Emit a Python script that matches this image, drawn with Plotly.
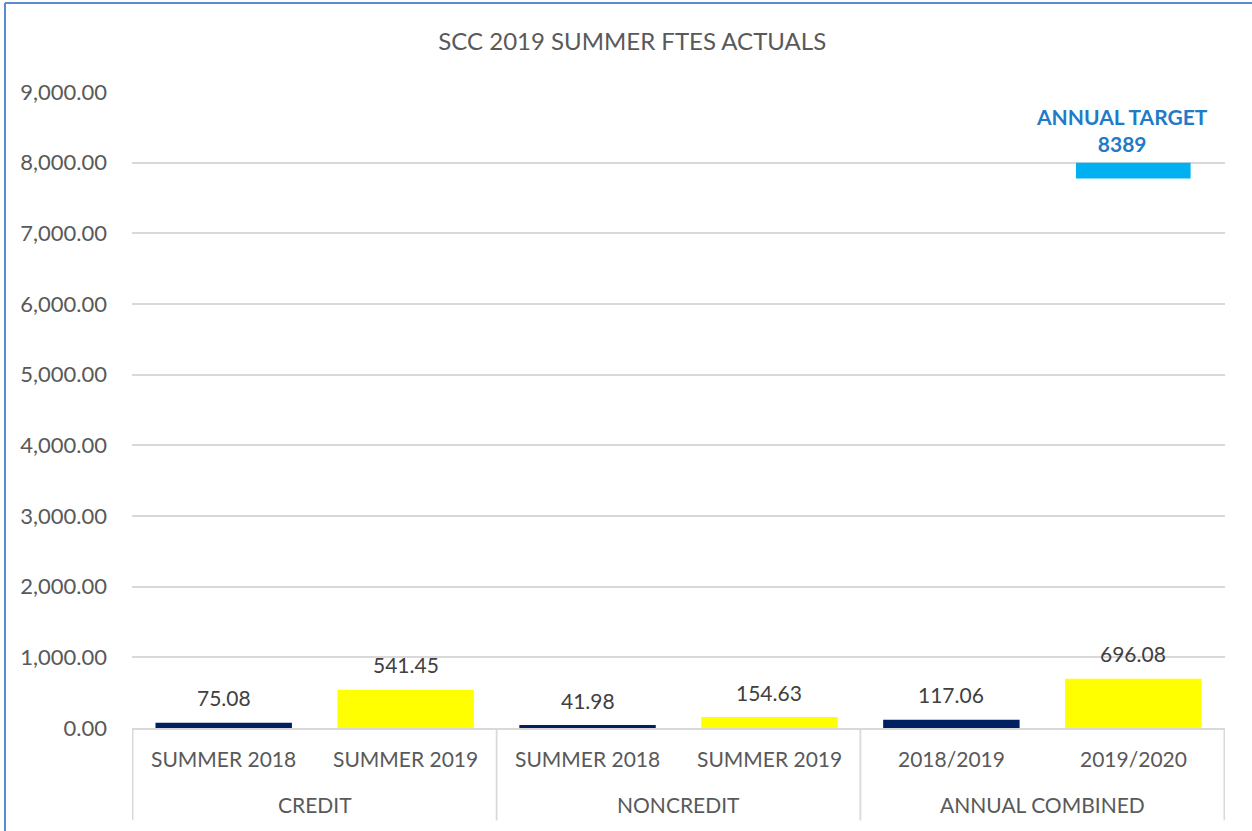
import plotly.graph_objects as go

groups = ["CREDIT", "CREDIT", "NONCREDIT", "NONCREDIT", "ANNUAL COMBINED", "ANNUAL COMBINED"]
periods = ["SUMMER 2018", "SUMMER 2019", "SUMMER 2018", "SUMMER 2019", "2018/2019", "2019/2020"]
ftes = [75.08, 541.45, 41.98, 154.63, 117.06, 696.08]
bar_colors = ["#002060", "#FFFF00", "#002060", "#FFFF00", "#002060", "#FFFF00"]

target_value = 8389
target_label = "ANNUAL TARGET<br>8389"
target_group = ["ANNUAL COMBINED"]
target_period = ["2019/2020"]
target_marker_base = [7775]
target_marker_height = [225]

font_family = "Lato, 'Open Sans', sans-serif"
text_color = "#595959"
grid_color = "#D9D9D9"

fig = go.Figure()
fig.add_trace(go.Bar(
    x=[groups, periods], y=ftes,
    marker=dict(color=bar_colors, line=dict(width=0)),
    width=0.75,
    showlegend=False, hoverinfo="y",
))
fig.add_trace(go.Bar(
    x=[target_group, target_period], y=target_marker_height, base=target_marker_base,
    marker=dict(color="#00B0F0", line=dict(width=0)),
    width=0.63,
    showlegend=False,
))

# value labels above bars
for i, v in enumerate(ftes):
    fig.add_annotation(x=i, xref="x", y=v, yref="y", text=f"{v:,.2f}", showarrow=False,
                       yanchor="middle", yshift=25,
                       font=dict(size=21, color="#404040", family=font_family))

# category labels (two levels)
for i, p in enumerate(periods):
    fig.add_annotation(x=i, xref="x", y=0, yref="paper", text=p, showarrow=False,
                       yanchor="middle", yshift=-30,
                       font=dict(size=21, color=text_color, family=font_family))
uniq_groups = list(dict.fromkeys(groups))
for g in uniq_groups:
    idx = [i for i, gg in enumerate(groups) if gg == g]
    fig.add_annotation(x=sum(idx) / len(idx), xref="x", y=0, yref="paper", text=g, showarrow=False,
                       yanchor="middle", yshift=-76,
                       font=dict(size=21, color=text_color, family=font_family))
    for edge in (min(idx) - 0.5, max(idx) + 0.5):
        fig.add_shape(type="line", xref="x", yref="paper", x0=edge, x1=edge, y0=0, y1=-0.145,
                      line=dict(color=grid_color, width=1.5))

fig.add_annotation(
    x=0.906, xref="paper", y=target_value, yref="y", text="<b>" + target_label + "</b>",
    showarrow=False, xanchor="center", yanchor="middle", yshift=5,
    font=dict(size=21, color="#1F7BC8", family=font_family), align="center",
)

fig.update_layout(
    width=1252, height=831,
    paper_bgcolor="white", plot_bgcolor="white",
    margin=dict(l=132, r=27, t=92, b=103),
    barmode="overlay",
    title=dict(text="SCC 2019 SUMMER FTES ACTUALS", x=0.505, xanchor="center", y=0.9495, yanchor="middle",
               font=dict(size=24, color=text_color, family=font_family)),
    font=dict(family=font_family, color=text_color),
)
fig.update_yaxes(
    range=[0, 9000], dtick=1000, tickformat=",.2f",
    showgrid=True, gridcolor=grid_color, gridwidth=1.5,
    zeroline=False, showline=False, ticks="",
    tickfont=dict(size=22, color=text_color), ticklabelstandoff=24,
)
fig.update_xaxes(
    type="multicategory",
    showline=True, linecolor=grid_color, linewidth=1.5,
    showdividers=False, showticklabels=False,
    ticks="",
)
fig.add_shape(type="line", xref="paper", yref="paper", x0=-0.1162, x1=-0.1162, y0=-0.2, y1=1.1399,
              line=dict(color="#5B8BD0", width=2))
fig.add_shape(type="line", xref="paper", yref="paper", x0=-0.1162, x1=1.03, y0=1.1399, y1=1.1399,
              line=dict(color="#5B8BD0", width=2))

fig.write_html("out.html", config={"displayModeBar": False},
               post_script="document.body.style.margin='0';document.body.style.overflow='hidden';")
